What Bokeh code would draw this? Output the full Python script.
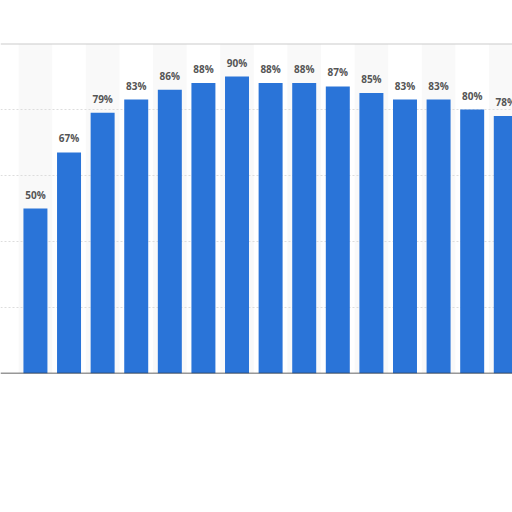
from bokeh.plotting import figure
from bokeh.models import ColumnDataSource, Range1d, Span, FixedTicker
from bokeh.core.properties import value
from bokeh.embed import file_html
from bokeh.resources import INLINE

# data (last bar is cut off at the right edge)
values = [50, 67, 79, 83, 86, 88, 90, 88, 88, 87, 85, 83, 83, 80, 78]
labels = [f"{v}%" for v in values]
positions = list(range(len(values)))
band_positions = [i for i in positions if i % 2 == 0]
band_tops = [100 for _ in band_positions]

src = ColumnDataSource(dict(x=positions, top=values, label=labels))
band_src = ColumnDataSource(dict(x=band_positions, top=band_tops))

p = figure(width=512, height=400, output_backend="svg", toolbar_location=None,
           x_range=Range1d(-1.04, 14.2), y_range=Range1d(0, 100),
           min_border_left=0, min_border_right=0, min_border_top=43, min_border_bottom=27)
p.outline_line_color = None
p.background_fill_color = "white"
p.border_fill_color = "white"
p.xaxis.visible = False
p.yaxis.visible = False
p.xgrid.grid_line_color = None
p.ygrid.ticker = FixedTicker(ticks=[20, 40, 60, 80])
p.ygrid.grid_line_color = "#dddddd"
p.ygrid.grid_line_dash = "2 2"
p.ygrid.grid_line_width = 1

# alternating light column bands
p.vbar(x="x", top="top", bottom=0, width=1.0, source=band_src,
       fill_color="#f9f9f9", line_color=None, level="underlay")

p.vbar(x="x", top="top", bottom=0, width=0.714, source=src,
       fill_color="#2a74d8", line_color=None)

p.text(x="x", y="top", text="label", source=src, y_offset=-7,
       text_align="center", text_baseline="bottom",
       text_font=value("Open Sans"), text_font_size="10px",
       text_font_style="bold", text_color="#555555")

p.add_layout(Span(location=100, dimension="width", line_color="#cccccc", line_width=2))
p.add_layout(Span(location=0, dimension="width", line_color="#333333", line_width=1.5))

open("out.html", "w").write(file_html(p, INLINE))
